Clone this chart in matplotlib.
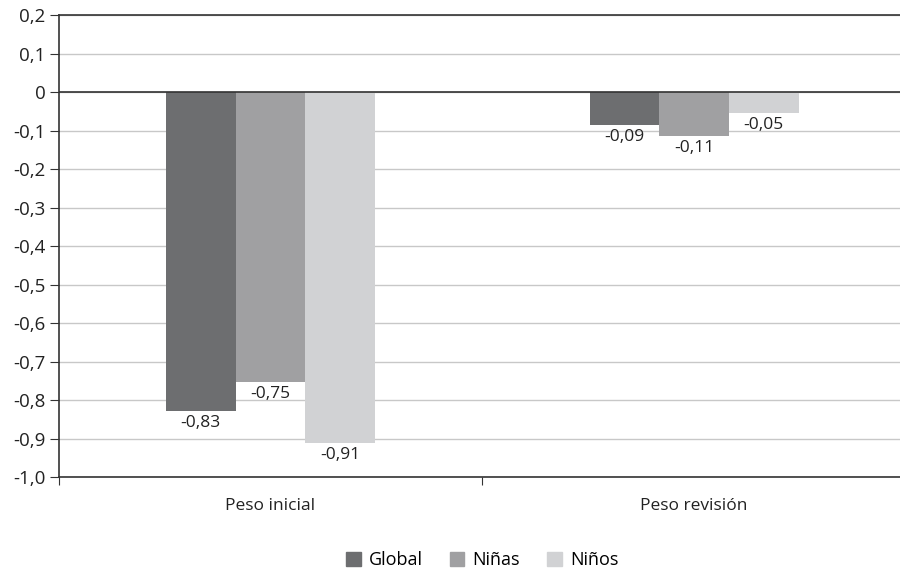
import numpy as np
import matplotlib.pyplot as plt
from matplotlib.patches import Patch

plt.rcParams['font.family'] = ['Open Sans', 'DejaVu Sans']

# datos
categorias = ['Peso inicial', 'Peso revisión']
series = ['Global', 'Niñas', 'Niños']
global_vals = [-0.828, -0.086]
ninas_vals = [-0.752, -0.113]
ninos_vals = [-0.912, -0.054]
colores = ['#6d6e70', '#a0a0a2', '#d1d2d4']
yticks = [0.2, 0.1, 0, -0.1, -0.2, -0.3, -0.4, -0.5, -0.6, -0.7, -0.8, -0.9, -1.0]
ytick_labels = ['0,2', '0,1', '0', '-0,1', '-0,2', '-0,3', '-0,4', '-0,5',
                '-0,6', '-0,7', '-0,8', '-0,9', '-1,0']

fig = plt.figure(figsize=(9, 5.72), dpi=100)
ax = fig.add_axes([0.0652, 0.166, 0.9413, 0.8077])

x = np.arange(len(categorias))
w = 0.1645
for i, (vals, col) in enumerate(zip([global_vals, ninas_vals, ninos_vals], colores)):
    pos = x + (i - 1) * w
    ax.bar(pos, vals, width=w, color=col, zorder=2)
    for xp, v in zip(pos, vals):
        ax.annotate(f'{v:.2f}'.replace('.', ','), (xp, v), xytext=(0, -3),
                    textcoords='offset points', ha='center', va='top',
                    fontsize=12.5, color='#222222')

ax.set_xlim(-0.5, 1.5)
ax.set_ylim(-1.0, 0.2)
ax.set_yticks(yticks)
ax.set_yticklabels(ytick_labels, fontsize=13.5, color='#222222')
ax.yaxis.grid(True, color='#c8c8c8', linewidth=1, zorder=0)
ax.axhline(0, color='#333333', linewidth=1.2, zorder=3)
ax.tick_params(axis='y', length=6.5, color='#333333', pad=3)

ax.set_xticks([-0.5, 0.5, 1.5])
ax.set_xticklabels([])
ax.tick_params(axis='x', length=6, color='#333333')
for xi, c in zip(x, categorias):
    ax.text(xi, -0.062, c, transform=ax.get_xaxis_transform(), ha='center',
            va='center', fontsize=12.5, color='#222222')

for s in ax.spines.values():
    s.set_color('#333333')
    s.set_linewidth(1.2)
ax.spines['right'].set_visible(False)

handles = [Patch(color=c) for c in colores]
ax.legend(handles, series, loc='center', bbox_to_anchor=(0.5, -0.18), ncol=3,
          frameon=False, fontsize=13, handlelength=0.8, handleheight=0.8,
          handletextpad=0.45, columnspacing=1.5)

fig.savefig('out.png', dpi=100)
